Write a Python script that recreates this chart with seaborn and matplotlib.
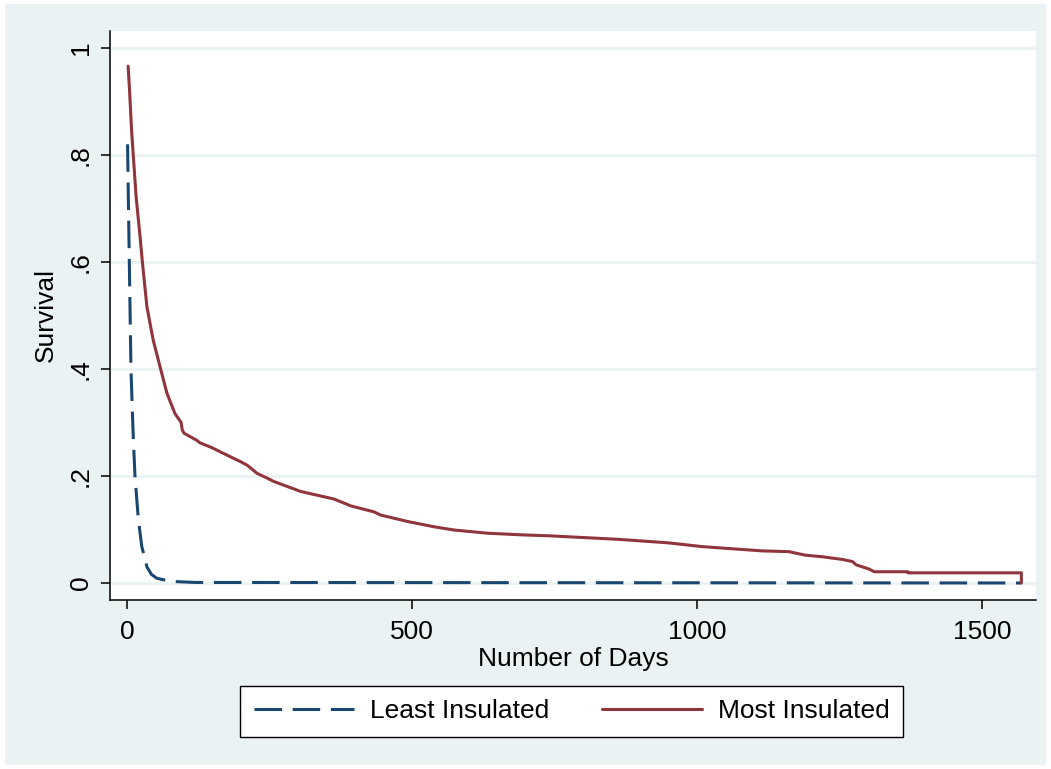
import matplotlib
matplotlib.use("Agg")
import matplotlib.pyplot as plt
from matplotlib.patches import Rectangle
import seaborn as sns
import pandas as pd

# Kaplan-Meier survival estimates by group
least_days = [1, 3.5, 5.3, 7, 11, 14, 20, 26, 35, 43, 52, 76, 120, 1569]
least_surv = [0.82, 0.64, 0.516, 0.398, 0.273, 0.2, 0.118, 0.068, 0.03, 0.016,
              0.009, 0.003, 0.001, 0.0]

most_days = [2, 4.5, 8, 11, 16, 23, 27, 35, 46, 59, 70, 84, 95, 97, 100, 122,
             128, 151, 164, 187, 199, 211, 217, 228, 246, 257, 305, 363, 393,
             433, 445, 492, 539, 574, 633, 692, 745, 862, 950, 1009, 1114,
             1161, 1190, 1220, 1255, 1273, 1279, 1302, 1311, 1370, 1370, 1569,
             1569]
most_surv = [0.966, 0.921, 0.847, 0.80, 0.722, 0.647, 0.60, 0.516, 0.454, 0.40,
             0.355, 0.317, 0.30, 0.286, 0.28, 0.267, 0.262, 0.252, 0.245,
             0.233, 0.227, 0.22, 0.215, 0.205, 0.196, 0.19, 0.171, 0.157,
             0.144, 0.133, 0.127, 0.115, 0.105, 0.099, 0.093, 0.090, 0.088,
             0.0816, 0.075, 0.068, 0.060, 0.0586, 0.052, 0.049, 0.044, 0.040,
             0.034, 0.026, 0.021, 0.021, 0.019, 0.019, 0.0]

group_labels = ["Least Insulated", "Most Insulated"]
x_ticks = [0, 500, 1000, 1500]
y_ticks = [0, 0.2, 0.4, 0.6, 0.8, 1.0]
y_tick_labels = ["0", ".2", ".4", ".6", ".8", "1"]

NAVY = "#1A476F"
MAROON = "#90353B"
BLUISH = "#EAF2F3"

sns.set_theme(style="white")
plt.rcParams["font.family"] = ["Liberation Sans", "DejaVu Sans"]
plt.rcParams["text.color"] = "black"

fig = plt.figure(figsize=(10.51, 7.69), dpi=100, facecolor="white")
fig.patches.append(Rectangle((5 / 1051, 4 / 769), 1041 / 1051, 761 / 769,
                             transform=fig.transFigure, facecolor=BLUISH,
                             edgecolor="none", zorder=-10))

ax = fig.add_axes([110 / 1051, 1 - 600 / 769, 926 / 1051, 569 / 769])
ax.set_facecolor("white")

least = pd.DataFrame({"days": least_days, "survival": least_surv})
most = pd.DataFrame({"days": most_days, "survival": most_surv})

sns.lineplot(data=least, x="days", y="survival", ax=ax, color=NAVY,
             estimator=None, sort=False, linewidth=2.2,
             label=group_labels[0])
ax.lines[-1].set_dashes([9, 3.5])
sns.lineplot(data=most, x="days", y="survival", ax=ax, color=MAROON,
             estimator=None, sort=False, linewidth=2.2,
             label=group_labels[1])

ax.set_xlim(-29.8, 1594.7)
ax.set_ylim(-0.0318, 1.0318)
ax.set_xticks(x_ticks)
ax.set_xticklabels([str(t) for t in x_ticks])
ax.set_yticks(y_ticks)
ax.set_yticklabels(y_tick_labels, rotation=90, va="center")

ax.yaxis.grid(True, color=BLUISH, linewidth=2.0)
ax.xaxis.grid(False)
ax.set_axisbelow(True)

for side in ["top", "right"]:
    ax.spines[side].set_visible(False)
for side in ["left", "bottom"]:
    ax.spines[side].set_color("black")
    ax.spines[side].set_linewidth(1.1)

ax.tick_params(axis="both", which="major", direction="out", length=6.5,
               width=1.1, color="black", labelsize=19, labelcolor="black",
               left=True, bottom=True)
ax.tick_params(axis="x", pad=8)
ax.tick_params(axis="y", pad=6)

ax.set_xlabel("Number of Days", fontsize=19, color="black", labelpad=2)
ax.set_ylabel("Survival", fontsize=19, color="black", labelpad=8)

ax.get_legend().remove()
handles, labels = ax.get_legend_handles_labels()
leg = fig.legend(handles, labels, ncol=2, loc="center",
                 bbox_to_anchor=(571.5 / 1051, 1 - 711.5 / 769),
                 fontsize=19, frameon=True, fancybox=False, edgecolor="black",
                 facecolor="white", framealpha=1, handlelength=3.8,
                 handletextpad=0.6, columnspacing=2.0, borderpad=0.5,
                 borderaxespad=0)
leg.get_frame().set_linewidth(1.0)
for t in leg.get_texts():
    t.set_color("black")

fig.savefig("out.png", dpi=100, facecolor=fig.get_facecolor())
